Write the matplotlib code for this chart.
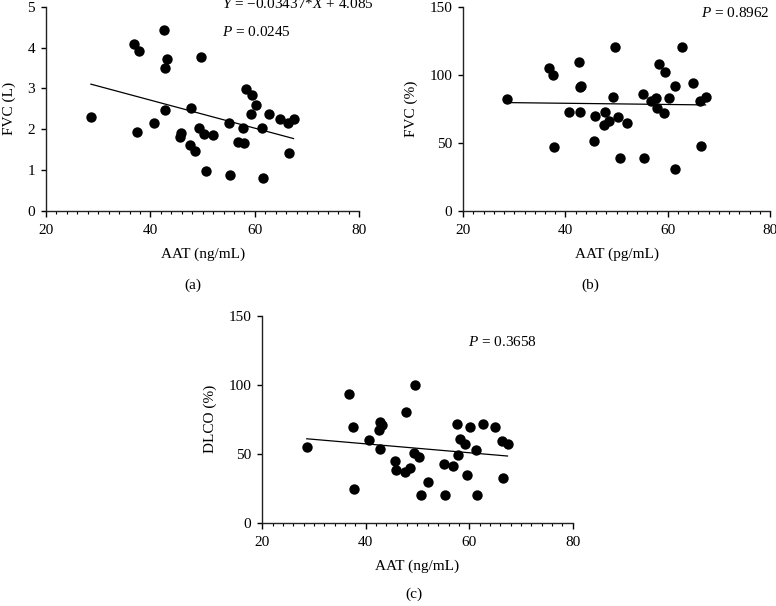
import numpy as np
import matplotlib
matplotlib.use("Agg")
import matplotlib.pyplot as plt
from matplotlib.ticker import MultipleLocator

plt.rcParams["font.family"] = ["Liberation Serif", "DejaVu Serif"]
plt.rcParams["mathtext.fontset"] = "custom"
plt.rcParams["mathtext.it"] = "Liberation Serif:italic"
plt.rcParams["mathtext.rm"] = "Liberation Serif"

# Data
aat = [28.6, 36.8, 37.5, 37.8, 40.7, 42.6, 42.8, 42.8, 43.1, 45.6,
       45.8, 47.6, 47.8, 48.6, 49.3, 49.6, 50.3, 50.6, 52.0, 55.1,
       55.3, 56.8, 57.7, 57.9, 58.3, 59.2, 59.5, 60.2, 61.4, 61.5,
       62.7, 64.9, 66.4, 66.5, 67.4]

fvc_l = [2.29, 4.09, 1.94, 3.91, 2.15, 4.42, 3.49, 2.48, 3.73, 1.81,
         1.91, 1.60, 2.51, 1.46, 2.03, 3.76, 1.89, 0.97, 1.85, 2.16,
         0.87, 1.68, 2.03, 1.65, 2.98, 2.36, 2.83, 2.58, 2.03, 0.80,
         2.38, 2.25, 2.16, 1.41, 2.25]

fvc_pct = [82.1, 104.9, 100.0, 46.8, 72.8, 109.1, 72.8, 90.7, 91.7, 51.2,
           69.4, 63.2, 72.8, 65.9, 83.8, 120.6, 68.9, 39.0, 64.5, 85.8,
           39.0, 80.4, 82.6, 75.2, 108.1, 71.6, 102.2, 82.6, 91.7, 30.4,
           120.6, 94.1, 80.9, 47.8, 83.8]

dlco_pct = [55.1, 93.0, 69.3, 24.6, 59.7, 66.9, 53.1, 72.9, 70.5, 44.7,
            37.9, 37.0, 80.2, 39.4, 50.5, 99.8, 47.3, 20.3, 29.7, 42.5,
            20.3, 41.3, 71.3, 48.8, 60.6, 57.2, 34.8, 69.6, 52.9, 20.3,
            71.5, 69.3, 58.9, 32.1, 57.2]

# regression lines (slope, intercept)
fit_a = (-0.03437, 4.085)
fit_b = (-0.044, 80.76)
fit_c = (-0.322, 70.0)

fig = plt.figure(figsize=(7.76, 6.06), dpi=100)


def style_axes(ax, ymax, ystep):
    ax.set_xlim(20, 80)
    ax.set_ylim(0, ymax)
    ax.spines["top"].set_visible(False)
    ax.spines["right"].set_visible(False)
    for s in ("left", "bottom"):
        ax.spines[s].set_linewidth(1.0)
        ax.spines[s].set_color("#222222")
    ax.xaxis.set_major_locator(MultipleLocator(20))
    ax.xaxis.set_minor_locator(MultipleLocator(2))
    ax.yaxis.set_major_locator(MultipleLocator(ystep))
    ax.tick_params(axis="x", which="major", length=4.5, width=1.0, pad=5,
                   labelsize=11)
    ax.tick_params(axis="x", which="minor", length=2.5, width=0.8)
    ax.tick_params(axis="y", which="major", length=3.5, width=1.0, pad=4.5,
                   labelsize=11)


def panel(rect, y, fit, ymax, ystep, ylabel, xlabel):
    ax = fig.add_axes(rect)
    ax.scatter(aat, y, s=56, color="black", zorder=3, linewidths=0)
    xs = np.array([min(aat), max(aat)])
    ax.plot(xs, fit[0] * xs + fit[1], color="black", lw=0.9)
    style_axes(ax, ymax, ystep)
    ax.set_ylabel(ylabel, fontsize=11, labelpad=8)
    ax.set_xlabel(xlabel, fontsize=11, labelpad=8)
    return ax


ax_a = panel([0.0593, 0.6523, 0.4037, 0.3366], fvc_l, fit_a, 5, 1,
             "FVC (L)", "AAT (ng/mL)")
ax_a.text(53.7, 5.07, r"$Y$ = −0.03437*$X$ + 4.085", fontsize=11, va="center")
ax_a.text(53.7, 4.39, r"$P$ = 0.0245", fontsize=11, va="center")

ax_b = panel([0.597, 0.6523, 0.3952, 0.3366], fvc_pct, fit_b, 150, 50,
             "FVC (%)", "AAT (pg/mL)")
ax_b.text(80, 145.6, r"$P$ = 0.8962", fontsize=11, va="center", ha="right")

ax_c = panel([0.338, 0.1375, 0.400, 0.3416], dlco_pct, fit_c, 150, 50,
             "DLCO (%)", "AAT (ng/mL)")
ax_c.text(59.8, 131.2, r"$P$ = 0.3658", fontsize=11, va="center")

fig.text(193 / 776, 1 - 285.7 / 606, "(a)", fontsize=11, ha="center", va="center")
fig.text(590 / 776, 1 - 285.7 / 606, "(b)", fontsize=11, ha="center", va="center")
fig.text(414 / 776, 1 - 594 / 606, "(c)", fontsize=11, ha="center", va="center")

fig.savefig("out.png", dpi=100)
